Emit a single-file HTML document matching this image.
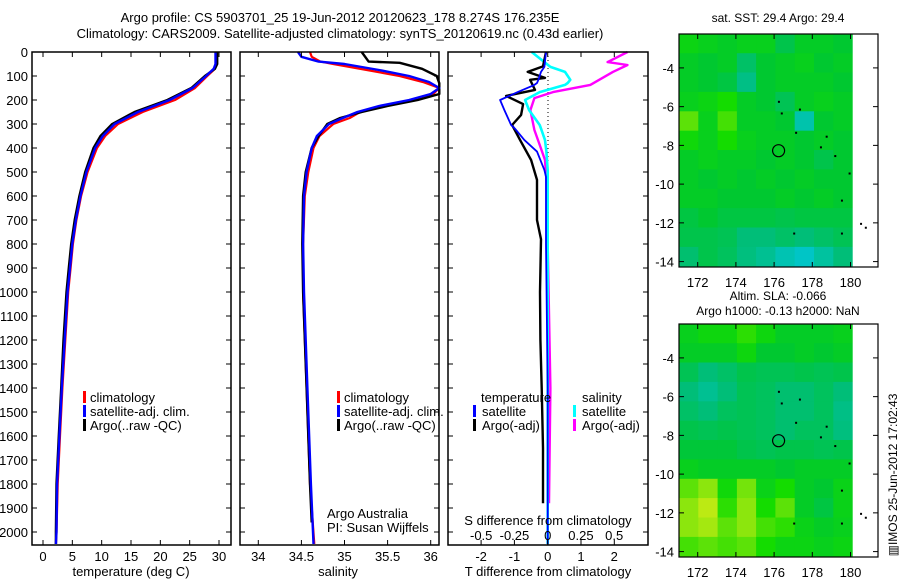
<!DOCTYPE html>
<html><head><meta charset="utf-8"><style>
html,body{margin:0;padding:0;background:#fff;}
svg{display:block;font-family:"Liberation Sans",sans-serif;}
</style></head><body>
<svg id="fig" width="900" height="580" viewBox="0 0 900 580" xmlns="http://www.w3.org/2000/svg">
<text x="340" y="22" font-size="13" text-anchor="middle">Argo profile: CS 5903701_25 19-Jun-2012 20120623_178 8.274S 176.235E</text>
<text x="340" y="38" font-size="13" text-anchor="middle">Climatology: CARS2009. Satellite-adjusted climatology: synTS_20120619.nc (0.43d earlier)</text>
<text x="778" y="22" font-size="12" text-anchor="middle">sat. SST: 29.4 Argo: 29.4</text>
<text x="778" y="300" font-size="12" text-anchor="middle">Altim. SLA: -0.066</text>
<text x="778" y="315" font-size="12" text-anchor="middle">Argo h1000: -0.13 h2000: NaN</text>
<text x="0" y="0" font-size="12" text-anchor="middle" transform="translate(897,475) rotate(-90)">▥IMOS 25-Jun-2012 17:02:43</text>
<g id="g"></g>
</svg>
<script>
// ---------- data ----------
const depthTicks=[0,100,200,300,400,500,600,700,800,900,1000,1100,1200,1300,1400,1500,1600,1700,1800,1900,2000];
const tempTicks=[0,5,10,15,20,25,30];
const salTicks=[34,34.5,35,35.5,36];
const salTickLabels=["34","34.5","35","35.5","36"];
const tdTicks=[-2,-1,0,1,2];
const sdTicks=[-0.5,-0.25,0,0.25,0.5];
const sdTickLabels=["-0.5","-0.25","0","0.25","0.5"];

const tDepth=[0,50,70,100,150,200,250,300,350,400,500,600,700,800,900,1000,1200,1400,1600,1800,2000,2050];
const tClim=[29.6,29.6,29.3,28,25.9,22.5,17,12.8,10.6,9.2,7.6,6.5,5.7,5.1,4.7,4.3,3.8,3.3,2.9,2.5,2.3,2.2];
const tSat=[29.4,29.4,29.1,27.8,25.5,21.6,16.2,12.2,10.2,8.9,7.4,6.4,5.6,5.0,4.6,4.2,3.7,3.2,2.8,2.4,2.3,2.2];
const tArgo=[29.7,29.7,29.3,27.6,25.3,21.2,15.6,11.8,9.8,8.6,7.2,6.2,5.4,4.8,4.4,4.0,3.5,3.1,2.7,2.3,2.2,2.2];

const sDepth=[0,20,40,50,75,100,125,150,175,200,225,250,275,300,350,400,500,600,800,1000,1400,1800,2050];
const sClim=[34.6,34.62,34.72,34.87,35.26,35.64,35.91,36.1,36.03,35.8,35.45,35.18,35.06,34.87,34.71,34.64,34.58,34.54,34.52,34.52,34.56,34.6,34.65];
const sSat=[34.46,34.5,34.7,35.0,35.4,35.75,35.98,36.1,36.0,35.75,35.4,35.15,34.98,34.82,34.68,34.62,34.56,34.53,34.52,34.53,34.57,34.61,34.64];
const aDepth=[0,40,45,70,100,130,175,200,225,250,275,300,350,400,500,600,800,1000,1400,1800,1960];
const sArgo=[35.2,35.28,35.64,35.9,36.07,36.1,36.1,35.85,35.5,35.2,34.95,34.8,34.7,34.62,34.55,34.52,34.51,34.52,34.56,34.6,34.62];

const dtDepth=[0,60,83,108,116,158,183,217,262,304,367,450,533,700,780,1000,1200,1400,1650,1800,1880];
const dtArgo=[-0.05,-0.14,-0.6,-0.08,-0.53,-0.38,-1.25,-0.74,-0.8,-1.07,-0.83,-0.5,-0.32,-0.32,-0.2,-0.23,-0.22,-0.18,-0.14,-0.14,-0.14];
const dsDepth=[0,42,54,83,137,167,192,242,325,387,450,533,800,1400,1880];
const dsArgo=[0.6,0.45,0.6,0.49,0.32,0.04,-0.1,-0.13,-0.1,-0.06,-0.02,-0.01,0.0,0.02,0.01];
const satDepth=[0,62,83,116,129,137,167,200,242,304,320,367,415,492,520,800,1400,2050];
const dtSat=[-0.05,-0.1,-0.2,-0.28,-0.32,-0.4,-0.9,-1.43,-1.3,-1.1,-0.98,-0.7,-0.32,-0.1,-0.05,-0.05,0,0];
const dsSat=[-0.12,0.02,0.13,0.17,0.15,0.13,-0.06,-0.17,-0.14,-0.06,-0.05,-0.02,-0.01,0,0,0,0,0];

const lonTicks=[172,174,176,178,180];
const latTicks=[-4,-6,-8,-10,-12,-14];
const sstGrid=[
[0.56,0.54,0.52,0.54,0.54,0.47,0.52,0.52,0.5],
[0.52,0.5,0.52,0.44,0.5,0.52,0.54,0.5,0.52],
[0.52,0.5,0.48,0.4,0.5,0.52,0.52,0.52,0.5],
[0.54,0.56,0.6,0.52,0.5,0.46,0.52,0.54,0.52],
[0.66,0.54,0.64,0.52,0.52,0.5,0.34,0.5,0.52],
[0.58,0.54,0.6,0.54,0.52,0.52,0.5,0.52,0.5],
[0.52,0.54,0.52,0.52,0.5,0.52,0.5,0.47,0.5],
[0.52,0.5,0.52,0.5,0.52,0.5,0.52,0.5,0.5],
[0.52,0.52,0.5,0.5,0.5,0.52,0.5,0.52,0.5],
[0.48,0.5,0.48,0.48,0.48,0.47,0.48,0.48,0.48],
[0.47,0.47,0.46,0.42,0.42,0.44,0.42,0.44,0.46],
[0.43,0.47,0.45,0.41,0.38,0.33,0.3,0.36,0.42]];
const slaGrid=[
[0.54,0.57,0.57,0.62,0.57,0.52,0.52,0.52,0.54],
[0.52,0.52,0.52,0.57,0.5,0.5,0.52,0.5,0.52],
[0.46,0.42,0.44,0.47,0.46,0.46,0.47,0.46,0.47],
[0.42,0.38,0.42,0.46,0.45,0.43,0.43,0.45,0.42],
[0.44,0.42,0.45,0.46,0.45,0.43,0.43,0.45,0.4],
[0.47,0.46,0.47,0.46,0.45,0.43,0.45,0.45,0.41],
[0.49,0.49,0.49,0.47,0.46,0.47,0.47,0.46,0.47],
[0.54,0.52,0.52,0.52,0.52,0.5,0.52,0.52,0.52],
[0.66,0.7,0.58,0.68,0.55,0.6,0.52,0.5,0.55],
[0.7,0.74,0.62,0.7,0.6,0.66,0.52,0.48,0.55],
[0.7,0.72,0.66,0.7,0.64,0.62,0.55,0.52,0.54],
[0.64,0.66,0.64,0.66,0.6,0.56,0.56,0.54,0.56]];
const islands=[[176.2,-5.7],[176.35,-6.3],[177.3,-6.1],[177.1,-7.3],[178.7,-7.5],[178.4,-8.05],[179.15,-8.5],[179.9,-9.4],[179.5,-10.8],[177.0,-12.5],[179.5,-12.5],[180.5,-12.0],[180.75,-12.2]];
const argoPos=[176.235,-8.274];

// ---------- helpers ----------
const NS="http://www.w3.org/2000/svg";
const G=document.getElementById('g');
function mk(tag,attrs,parent){const e=document.createElementNS(NS,tag);for(const k in attrs)e.setAttribute(k,attrs[k]);(parent||G).appendChild(e);return e;}
const yD=d=>52+d*0.24;
const P1={x0:32,x1:231},P2={x0:240,x1:439},P3={x0:448,x1:648};
const xT=t=>43+t*5.867, xS=s=>258.3+(s-34)*86.2, xDT=v=>547.7+v*33.3, xDS=v=>547.7+v*133;

function frame(p,name){const r=mk('rect',{x:p.x0,y:52,width:p.x1-p.x0,height:493,fill:'none',stroke:'#000','stroke-width':1.5});
}
function yTicks(p,labels){depthTicks.forEach(d=>{const y=yD(d);
 mk('line',{x1:p.x0,x2:p.x0+5,y1:y,y2:y,stroke:'#000'});mk('line',{x1:p.x1-5,x2:p.x1,y1:y,y2:y,stroke:'#000'});
 if(labels){const t=mk('text',{x:p.x0-4,y:y+5,'font-size':13,'text-anchor':'end'});t.textContent=d;
 }});}
function xTicks(ticks,lbls,fx,size){ticks.forEach((v,i)=>{const x=fx(v);
 mk('line',{x1:x,x2:x,y1:545,y2:540,stroke:'#000'});mk('line',{x1:x,x2:x,y1:52,y2:57,stroke:'#000'});
 const t=mk('text',{x:x,y:561,'font-size':size||13,'text-anchor':'middle'});t.textContent=lbls[i];
 });}
function line(ds,vs,fx,col,w,name){const pts=ds.map((d,i)=>fx(vs[i]).toFixed(1)+','+yD(d).toFixed(1)).join(' ');
 const p=mk('polyline',{points:pts,fill:'none',stroke:col,'stroke-width':w||2.2,'stroke-linejoin':'round'});
 }
function txt(x,y,s,name,opt){const t=mk('text',Object.assign({x:x,y:y,'font-size':13},opt||{}));t.textContent=s;
 return t;}
function legBar(x,y,c){const r=mk('rect',{x:x,y:y-11,width:3,height:12,fill:c});}

// ---------- panel 1 ----------
line(tDepth,tClim,xT,'#ff0000',2.2,'temperature-climatology-line');
line(tDepth,tArgo,xT,'#000000',2.4,'temperature-argo-line');
line(tDepth,tSat,xT,'#0000ff',2.4,'temperature-satellite-line');
frame(P1,'temperature-panel-frame');yTicks(P1,true);
xTicks(tempTicks,tempTicks.map(String),xT);
txt(131,576,'temperature (deg C)','temperature-axis-title',{'text-anchor':'middle'});
[['climatology','#f00'],['satellite-adj. clim.','#00f'],['Argo(..raw -QC)','#000']].forEach((l,i)=>{legBar(83,402+i*14,l[1]);txt(90,402+i*14,l[0],'temp-legend-entry');});

// ---------- panel 2 ----------
line(sDepth,sClim,xS,'#ff0000',2.2,'salinity-climatology-line');
line(aDepth,sArgo,xS,'#000000',2.4,'salinity-argo-line');
line(sDepth,sSat,xS,'#0000ff',2.4,'salinity-satellite-line');
frame(P2,'salinity-panel-frame');yTicks(P2,false);
xTicks(salTicks,salTickLabels,xS);
txt(338,576,'salinity','salinity-axis-title',{'text-anchor':'middle'});
[['climatology','#f00'],['satellite-adj. clim.','#00f'],['Argo(..raw -QC)','#000']].forEach((l,i)=>{legBar(337,402+i*14,l[1]);txt(344,402+i*14,l[0],'sal-legend-entry');});
txt(327,518,'Argo Australia','argo-australia-label');
txt(327,532,'PI: Susan Wijffels','pi-label');

// ---------- panel 3 ----------
mk('line',{x1:548,x2:548,y1:52,y2:545,stroke:'#000','stroke-dasharray':'1,3'});
line(dsDepth,dsArgo,xDS,'#ff00ff',2.4,'salinity-diff-argo-line');
line(satDepth,dsSat,xDS,'#00ffff',2.6,'salinity-diff-satellite-line');
line(dtDepth,dtArgo,xDT,'#000000',2.4,'temperature-diff-argo-line');
line(satDepth,dtSat,xDT,'#0000ff',1.8,'temperature-diff-satellite-line');
frame(P3,'difference-panel-frame');yTicks(P3,false);
xTicks(tdTicks,tdTicks.map(String),xDT);
sdTicks.forEach((v,i)=>{txt(xDS(v),540,sdTickLabels[i],'s-diff-tick-label',{'text-anchor':'middle'});});
txt(548,525,'S difference from climatology','s-diff-axis-title',{'text-anchor':'middle'});
txt(548,576,'T difference from climatology','t-diff-axis-title',{'text-anchor':'middle'});
txt(481,402,'temperature','diff-legend-temperature-header');
txt(582,402,'salinity','diff-legend-salinity-header');
legBar(473,416,'#00f');txt(482,416,'satellite','diff-legend-entry');
legBar(473,430,'#000');txt(482,430,'Argo(-adj)','diff-legend-entry');
legBar(573,416,'#0ff');txt(582,416,'satellite','diff-legend-entry');
legBar(573,430,'#f0f');txt(582,430,'Argo(-adj)','diff-legend-entry');

// ---------- maps ----------
const stops=[[0,[0,0,128]],[0.25,[0,200,230]],[0.42,[0,190,120]],[0.5,[0,200,48]],[0.6,[20,220,0]],[0.75,[200,235,20]],[1,[255,255,0]]];
function cmap(v){for(let i=1;i<stops.length;i++){if(v<=stops[i][0]){const a=stops[i-1],b=stops[i],f=(v-a[0])/(b[0]-a[0]);
 return 'rgb('+a[1].map((c,k)=>Math.round(c+(b[1][k]-c)*f)).join(',')+')';}}return 'rgb(255,255,0)';}
function drawMap(top,grid,name){
 const xL=lon=>697.7+(lon-172)*19.1, yL=lat=>top+33.9+(-4-lat)*19.37;
 grid.forEach((row,r)=>row.forEach((v,c)=>{const lon0=171.02+c*1.01,lat0=-2.24-r;
  const x=xL(lon0),y=yL(lat0);
  const cell=mk('rect',{x:x.toFixed(1),y:y.toFixed(1),width:(19.1*1.01+0.5).toFixed(1),height:(19.37+0.5).toFixed(1),fill:cmap(v)});
  }));
 mk('rect',{x:852.7,y:top,width:26,height:233,fill:'#fff'});
 islands.forEach(p=>{const d=mk('rect',{x:xL(p[0]),y:yL(p[1]),width:2,height:2,fill:'#000'});});
 const c=mk('circle',{cx:xL(argoPos[0]),cy:yL(argoPos[1]),r:6,fill:'none',stroke:'#000','stroke-width':1.2});
 
 const f=mk('rect',{x:679,y:top,width:199,height:233,fill:'none',stroke:'#000','stroke-width':1.2});
 
 lonTicks.forEach(l=>{const x=xL(l);mk('line',{x1:x,x2:x,y1:top+233,y2:top+228,stroke:'#000'});mk('line',{x1:x,x2:x,y1:top,y2:top+5,stroke:'#000'});
  txt(x,top+253,String(l),'lon-tick-label',{'text-anchor':'middle'});});
 latTicks.forEach(l=>{const y=yL(l);mk('line',{x1:679,x2:684,y1:y,y2:y,stroke:'#000'});mk('line',{x1:873,x2:878,y1:y,y2:y,stroke:'#000'});
  txt(674,y+5,String(l),'lat-tick-label',{'text-anchor':'end'});});
}
drawMap(34,sstGrid,'sst-map');
drawMap(324,slaGrid,'sla-map');
</script>
</body></html>
